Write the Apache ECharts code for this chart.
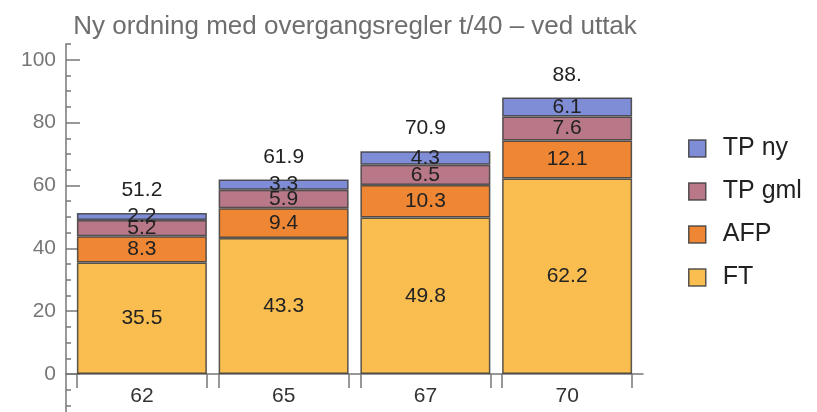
<!DOCTYPE html>
<html>
<head>
<meta charset="utf-8">
<script src="https://cdn.jsdelivr.net/npm/echarts@6/dist/echarts.min.js"></script>
<style>
  html, body { margin: 0; padding: 0; background: #fff; }
  #chart { width: 817px; height: 412px; }
</style>
</head>
<body>
<div id="chart"></div>
<script>
const categories = ['62', '65', '67', '70']
const ft = [35.5, 43.3, 49.8, 62.2]
const afp = [8.3, 9.4, 10.3, 12.1]
const tpGml = [5.2, 5.9, 6.5, 7.6]
const tpNy = [2.2, 3.3, 4.3, 6.1]
const totals = [51.2, 61.9, 70.9, 88]
const yMajorTicks = [0, 20, 40, 60, 80, 100]
const yMinorTicks = [0, 5, 10, 15, 20, 25, 30, 35, 40, 45, 50, 55, 60, 65, 70, 75, 80, 85, 90, 95, 100, 105]
const yBelowTicks = [-10, -5]

const font = 'Liberation Sans, Arial, sans-serif'
const yMin = -12
const yMax = 105
const gap = 0.083 // gap between bars, share of one category slot
const half = (1 - gap) / 2
// x-axis ticks sit on both edges of every bar, labels at slot centres
const barEdges = categories.flatMap((c, i) => [i + 0.5 - half, i + 0.5 + half])
const slotCentres = categories.map((c, i) => i + 0.5)
const pad = 5 / 141.75 // axis overhang past the first/last slot

const chart = echarts.init(document.getElementById('chart'))

const barStyle = {
  borderColor: 'rgba(60,60,60,0.85)',
  borderWidth: 1.5
}
const insideLabel = {
  show: true,
  position: 'inside',
  color: '#222',
  fontFamily: font,
  fontSize: 21
}

function stackSeries (name, data, color) {
  return {
    name,
    type: 'bar',
    stack: 'total',
    xAxisIndex: 0,
    yAxisIndex: 0,
    barCategoryGap: (gap * 100) + '%',
    barGap: '-100%',
    data,
    itemStyle: { ...barStyle, color },
    label: insideLabel
  }
}

const axisColor = '#777'
const axisLine = { show: true, onZero: false, lineStyle: { color: axisColor, width: 1.5 } }
const tickLine = { color: axisColor, width: 1.5 }

const option = {
  animation: false,
  title: {
    text: 'Ny ordning med overgangsregler t/40 – ved uttak',
    left: 350,
    textAlign: 'center',
    top: 9,
    textStyle: { fontFamily: font, fontSize: 26, fontWeight: 'normal', color: '#6e6e6e' }
  },
  legend: {
    data: ['TP ny', 'TP gml', 'AFP', 'FT'],
    orient: 'vertical',
    left: 683,
    top: 131,
    icon: 'rect',
    itemWidth: 17,
    itemHeight: 17,
    itemGap: 18,
    itemStyle: { borderColor: 'rgba(60,60,60,0.85)', borderWidth: 1.5 },
    textStyle: { fontFamily: font, fontSize: 25, color: '#222', lineHeight: 25, padding: [0, 0, 0, 12] }
  },
  // 0: bars, 1: axes from 0 up, 2: the y-axis stub below 0
  grid: [
    { left: 71, width: 567, top: 44, height: 330, outerBoundsMode: 'none' },
    { left: 66, width: 577, top: 44, height: 330, outerBoundsMode: 'none' },
    { left: 66, width: 577, top: 374, height: 38, outerBoundsMode: 'none' }
  ],
  xAxis: [
    {
      type: 'category',
      gridIndex: 0,
      data: categories,
      show: false
    },
    {
      type: 'value',
      gridIndex: 1,
      position: 'bottom',
      min: -pad,
      max: categories.length + pad,
      splitLine: { show: false },
      axisLine,
      axisTick: { show: true, customValues: barEdges, length: 14, lineStyle: tickLine },
      axisLabel: {
        customValues: slotCentres,
        formatter: v => categories[Math.floor(v)],
        margin: 12,
        fontFamily: font,
        fontSize: 21,
        color: '#333'
      }
    },
    {
      type: 'value',
      gridIndex: 2,
      min: 0,
      max: 1,
      show: false
    }
  ],
  yAxis: [
    {
      type: 'value',
      gridIndex: 0,
      min: 0,
      max: yMax,
      show: false
    },
    {
      type: 'value',
      gridIndex: 1,
      min: 0,
      max: yMax,
      splitLine: { show: false },
      axisLine,
      axisTick: { show: true, inside: true, length: 5, customValues: yMinorTicks, lineStyle: tickLine },
      axisLabel: { show: false }
    },
    {
      type: 'value',
      gridIndex: 1,
      position: 'left',
      min: 0,
      max: yMax,
      splitLine: { show: false },
      axisLine: { show: false },
      axisTick: { show: true, inside: true, length: 9, customValues: yMajorTicks, lineStyle: tickLine },
      axisLabel: { customValues: yMajorTicks, margin: 10, fontFamily: font, fontSize: 21, color: '#777' }
    },
    {
      type: 'value',
      gridIndex: 2,
      min: yMin,
      max: 0,
      splitLine: { show: false },
      axisLine,
      axisTick: { show: true, inside: true, length: 5, customValues: yBelowTicks, lineStyle: tickLine },
      axisLabel: { show: false }
    }
  ],
  series: [
    stackSeries('FT', ft, '#f9bd50'),
    stackSeries('AFP', afp, '#ee8634'),
    stackSeries('TP gml', tpGml, '#b87888'),
    stackSeries('TP ny', tpNy, '#7f8cd6'),
    {
      name: 'total',
      type: 'bar',
      xAxisIndex: 0,
      yAxisIndex: 0,
      barCategoryGap: (gap * 100) + '%',
      barGap: '-100%',
      data: totals,
      itemStyle: { color: 'rgba(0,0,0,0)' },
      silent: true,
      z: 1,
      label: {
        show: true,
        position: 'top',
        distance: 12,
        color: '#222',
        fontFamily: font,
        fontSize: 21,
        formatter: p => (p.value % 1 === 0 ? p.value + '.' : p.value.toFixed(1))
      }
    }
  ]
}

chart.setOption(option)
</script>
</body>
</html>
